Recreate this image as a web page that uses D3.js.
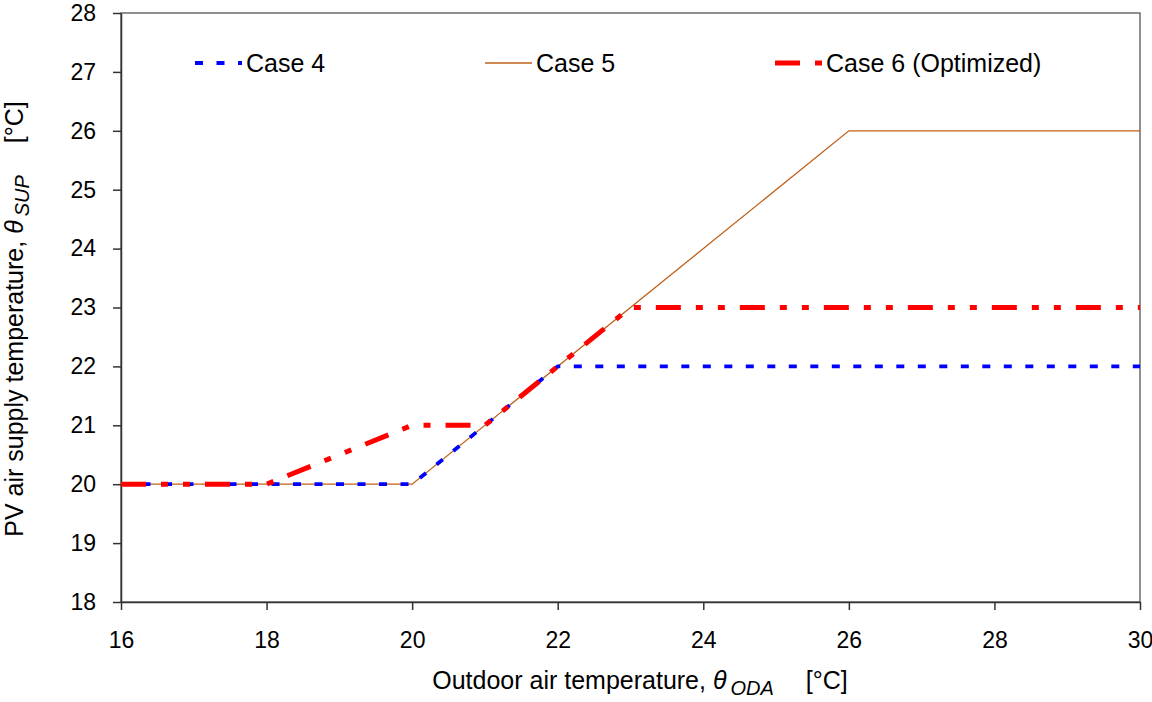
<!DOCTYPE html>
<html>
<head>
<meta charset="utf-8">
<script src="https://cdn.jsdelivr.net/npm/d3@7"></script>
<style>
  body { margin: 0; background: #fff; }
  text { font-family: "Liberation Sans", Arial, sans-serif; fill: #000; }
</style>
</head>
<body>
<div id="chart"></div>
<script>
// x values (outdoor air temperature) and supply temperatures per case
const case4X = [16, 18, 20, 22, 30];
const case4Y = [20, 20, 20, 22, 22];
const case5X = [16, 20, 26, 30];
const case5Y = [20, 20, 26, 26];
const case6X = [16, 18, 19, 20, 21, 22, 23, 30];
const case6Y = [20, 20, 20.5, 21, 21, 22, 23, 23];
const xTicks = [16, 18, 20, 22, 24, 26, 28, 30];
const yTicks = [18, 19, 20, 21, 22, 23, 24, 25, 26, 27, 28];

const W = 1152, H = 702;
const margin = { top: 13, right: 12, bottom: 100, left: 121 };

const svg = d3.select("#chart").append("svg")
  .attr("width", W).attr("height", H);

const x = d3.scaleLinear().domain([16, 30]).range([margin.left, W - margin.right]);
const y = d3.scaleLinear().domain([18, 28]).range([H - margin.bottom, margin.top]);

// === Frame ===
svg.append("rect")
  .attr("x", x(16)).attr("y", y(28))
  .attr("width", x(30) - x(16)).attr("height", y(18) - y(28))
  .attr("fill", "none").attr("stroke", "#555").attr("stroke-width", 1.3);

// === Axes ===
const xAxis = svg.append("g")
  .attr("transform", `translate(0,${y(18)})`)
  .call(d3.axisBottom(x).tickValues(xTicks).tickSize(8).tickSizeOuter(0).tickPadding(22));
const yAxis = svg.append("g")
  .attr("transform", `translate(${x(16)},0)`)
  .call(d3.axisLeft(y).tickValues(yTicks).tickSize(8).tickSizeOuter(0).tickPadding(17));
[xAxis, yAxis].forEach(a => {
  a.select(".domain").attr("stroke", "#333").attr("stroke-width", 1.5);
  a.selectAll(".tick line").attr("stroke", "#333").attr("stroke-width", 1.5);
  a.selectAll(".tick text").style("font-size", "23px").attr("fill", "#000");
});

// === Lines ===
const line = d3.line().x(d => x(d[0])).y(d => y(d[1]));
const series = [
  { name: "Case 5", xs: case5X, ys: case5Y, color: "#C0601A", width: 1.3, dash: null },
  { name: "Case 4", xs: case4X, ys: case4Y, color: "#0000FF", width: 3.8, dash: "8,13.5" },
  { name: "Case 6 (Optimized)", xs: case6X, ys: case6Y, color: "#FF0000", width: 5, dash: "25,15,7,15,7,15" }
];
series.forEach(s => {
  svg.append("path")
    .datum(d3.zip(s.xs, s.ys))
    .attr("d", line)
    .attr("fill", "none")
    .attr("stroke", s.color)
    .attr("stroke-width", s.width)
    .attr("stroke-dasharray", s.dash);
});

// === Legend ===
const legendItems = [
  { s: series[1], x0: 195 },
  { s: series[0], x0: 485 },
  { s: series[2], x0: 775 }
];
legendItems.forEach(({ s, x0 }) => {
  const g = svg.append("g").attr("transform", `translate(${x0},63)`);
  g.append("line")
    .attr("x1", 0).attr("x2", 47).attr("y1", 0).attr("y2", 0)
    .attr("stroke", s.color).attr("stroke-width", s.width)
    .attr("stroke-dasharray", s.dash);
  g.append("text").attr("x", 51).attr("y", 9)
    .style("font-size", "25px").text(s.name);
});

// === Axis titles ===
function axisTitle(t, label, sub) {
  t.append("tspan").text(label);
  t.append("tspan").style("font-style", "italic").text("θ");
  t.append("tspan").attr("dx", 4).attr("dy", 6)
    .style("font-style", "italic").style("font-size", "20px").text(sub);
  t.append("tspan").attr("dx", 32).attr("dy", -6).text("[°C]");
}

axisTitle(
  svg.append("text")
    .attr("x", 640).attr("y", 689)
    .attr("text-anchor", "middle")
    .style("font-size", "25px"),
  "Outdoor air temperature, ", "ODA");

axisTitle(
  svg.append("text")
    .attr("transform", `translate(23,319) rotate(-90)`)
    .attr("text-anchor", "middle")
    .style("font-size", "25px"),
  "PV air supply temperature, ", "SUP");
</script>
</body>
</html>
